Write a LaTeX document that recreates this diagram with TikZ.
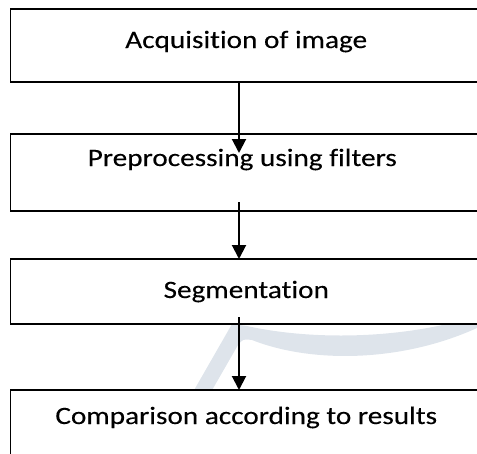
\documentclass[tikz,border=0pt]{standalone}
\usepackage{fontspec}
\setmainfont{Carlito}[FakeStretch=1.17, FakeBold=0.2, Ligatures={NoCommon, NoRare, NoDiscretionary}]
\usetikzlibrary{arrows.meta}
\definecolor{wmark}{RGB}{222,228,235}
\tikzset{
  box/.style={draw=black, fill=white, line width=1.8pt, minimum width=471.5pt, inner sep=0pt, outer sep=0pt, anchor=north west},
  lbl/.style={font=\fontsize{25}{30}\selectfont, anchor=base, inner sep=0pt},
  arr/.style={line width=2pt, -{Triangle[length=14pt,width=14pt]}},
}
\begin{document}
\begin{tikzpicture}[x=1pt,y=-1pt]
\useasboundingbox (0,0) rectangle (477,453);
\clip (0,0) rectangle (477,453);
% faint watermark
\fill[wmark] (193,392) -- (211,392) -- (238,345) .. controls (243,339) .. (252,340)
  .. controls (310,363) and (400,363) .. (477,328) -- (477,316)
  .. controls (400,340) and (310,340) .. (247,326) -- (232,324) -- cycle;
% boxes
\node[box, minimum height=73pt] (b1) at (10.5,9) {};
\node[box, minimum height=77pt] (b2) at (10.5,134) {};
\node[box, minimum height=65pt] (b3) at (10.5,259) {};
\node[box, minimum height=100pt] (b4) at (10.5,390) {};
% labels
\node[lbl] (t1) at ([yshift=-39pt]b1.north) {Acquisition of image};
\node[lbl] (t2) at ([xshift=-4pt,yshift=-32pt]b2.north) {Preprocessing using filters};
\node[lbl] (t3) at ([yshift=-39pt]b3.north) {Segmentation};
\node[lbl] (t4) at ([yshift=-34pt]b4.north) {Comparison according to results};
% arrows
\coordinate (e1) at (239,153);
\coordinate (s2) at (239,202);
\coordinate (s3) at (239,317);
\draw[arr] (b1.south -| e1) -- (e1);
\draw[arr] (s2) -- (s2 |- b3.north);
\draw[arr] (s3) -- (s3 |- b4.north);
\end{tikzpicture}
\end{document}
